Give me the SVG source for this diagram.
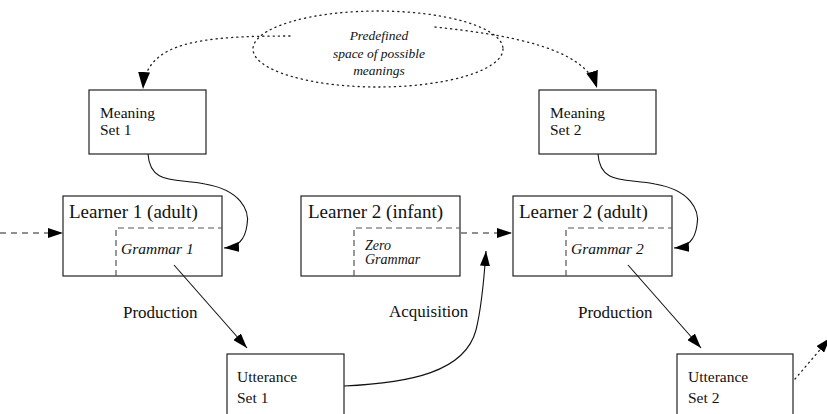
<svg xmlns="http://www.w3.org/2000/svg" width="827" height="414" viewBox="0 0 827 414">
<defs>
<style>
.box{fill:#fff;stroke:#222;stroke-width:1.2}
.gram{fill:none;stroke:#555;stroke-width:1.2;stroke-dasharray:6 4}
.lbl{font-family:"Liberation Serif",serif;fill:#111}
.learner{font-size:19px}
.small{font-size:15.5px}
.it{font-style:italic}
.edge{fill:none;stroke:#111;stroke-width:1.1}
.dot{fill:none;stroke:#222;stroke-width:1.3;stroke-dasharray:1.2 4;stroke-linecap:round}
.dash{fill:none;stroke:#222;stroke-width:1.2;stroke-dasharray:6 5}
</style>
<marker id="ah" markerUnits="userSpaceOnUse" markerWidth="16" markerHeight="10" refX="15" refY="5" orient="auto"><path d="M0,0 L15,5 L0,10 Z" fill="#000"/></marker>
<marker id="ahb" markerUnits="userSpaceOnUse" markerWidth="18" markerHeight="12" refX="17" refY="6" orient="auto"><path d="M0,0 L17,6 L0,12 Z" fill="#000"/></marker>
</defs>

<g id="ellipse">
<ellipse cx="378" cy="49" rx="125" ry="38" class="dot"/>
<text class="lbl it" font-size="13.5" text-anchor="middle"><tspan x="379" y="40">Predefined</tspan><tspan x="379" y="58">space of possible</tspan><tspan x="379" y="75">meanings</tspan></text>
</g>

<g id="meaning1">
<rect x="89" y="90" width="117" height="64" class="box"/>
<text class="lbl small"><tspan x="100" y="118">Meaning</tspan><tspan x="100" y="135">Set 1</tspan></text>
</g>

<g id="meaning2">
<rect x="539" y="90" width="117" height="64" class="box"/>
<text class="lbl small"><tspan x="550" y="118">Meaning</tspan><tspan x="550" y="135">Set 2</tspan></text>
</g>

<g id="learner1">
<rect x="63" y="196" width="159" height="80" class="box"/>
<text x="69" y="218" class="lbl learner">Learner 1 (adult)</text>
<path d="M116,276 V228 H222" class="gram"/>
<text x="121" y="254" class="lbl it small">Grammar 1</text>
</g>

<g id="learner2infant">
<rect x="301" y="196" width="159" height="80" class="box"/>
<text x="308" y="218" class="lbl learner">Learner 2 (infant)</text>
<path d="M354,276 V228 H460" class="gram"/>
<text class="lbl it" font-size="14"><tspan x="365" y="250">Zero</tspan><tspan x="365" y="264">Grammar</tspan></text>
</g>

<g id="learner2adult">
<rect x="513" y="196" width="159" height="80" class="box"/>
<text x="519" y="218" class="lbl learner">Learner 2 (adult)</text>
<path d="M566,276 V228 H672" class="gram"/>
<text x="571" y="254" class="lbl it small">Grammar 2</text>
</g>

<g id="utterance1">
<rect x="227" y="354" width="117" height="70" class="box"/>
<text class="lbl small"><tspan x="237" y="382">Utterance</tspan><tspan x="237" y="403">Set 1</tspan></text>
</g>

<g id="utterance2">
<rect x="677" y="354" width="116" height="70" class="box"/>
<text class="lbl small"><tspan x="688" y="382">Utterance</tspan><tspan x="688" y="403">Set 2</tspan></text>
</g>

<g id="connectors">
<path d="M290,36 C200,36 146,42 143,89" class="dot" marker-end="url(#ahb)"/>
<path d="M435,27 C510,35 585,48 597,88" class="dot" marker-end="url(#ahb)"/>
<path d="M0,233 H63" class="dash" marker-end="url(#ah)"/>
<path d="M461,233 H512" class="dash" marker-end="url(#ah)"/>
<path d="M148,154 C150,185 175,178 205,184 C240,190 250,210 247,225 C245,240 238,247 224,248" class="edge" marker-end="url(#ah)"/>
<path d="M598,154 C600,185 625,178 655,184 C690,190 700,210 697,225 C695,240 688,247 674,248" class="edge" marker-end="url(#ah)"/>
<path d="M174,265 L247,348" class="edge" marker-end="url(#ah)"/>
<path d="M628,265 L701,348" class="edge" marker-end="url(#ah)"/>
<path d="M344,386 C410,383 465,372 476,330 C481,310 484,280 486,251" class="edge" marker-end="url(#ah)"/>
<path d="M795,379 L830,338" class="dot" marker-end="url(#ah)"/>
<text x="123" y="318" class="lbl" font-size="17">Production</text>
<text x="578" y="318" class="lbl" font-size="17">Production</text>
<text x="389" y="317" class="lbl" font-size="17">Acquisition</text>
</g>
</svg>
